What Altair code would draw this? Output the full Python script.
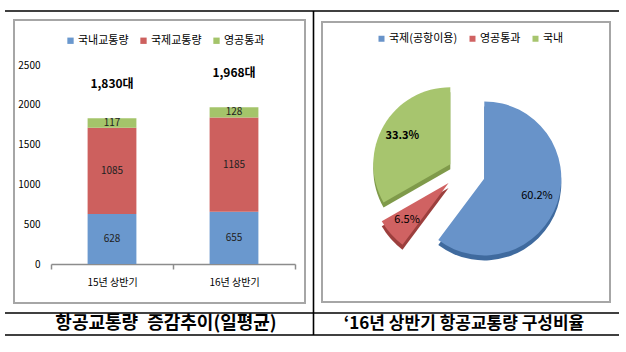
import altair as alt
import pandas as pd

# ---------------- data ----------------
periods = ["15년 상반기", "16년 상반기"]
series = ["국내교통량", "국제교통량", "영공통과"]
domestic = [628, 655]
international = [1085, 1185]
overflight = [117, 128]
y_ticks = [0, 500, 1000, 1500, 2000, 2500]

pie_names = ["국제(공항이용)", "영공통과", "국내"]
pie_values = [60.2, 6.5, 33.3]

captions = ["항공교통량\u2002증감추이(일평균)", "\u201816년 상반기 항공교통량 구성비율"]

# ---------------- style ----------------
FONT = "Noto Sans CJK KR"
W, H = 626, 352
BAR_COLORS = ["#6A98CE", "#CD605E", "#A4C46A"]
PIE_COLORS = ["#6893C9", "#D06262", "#A7C56E"]
PIE_DARK = ["#3F6A9E", "#9C3F3D", "#7F9A4A"]
PIE_EXPLODE = [23.5, 18, 13.5]
PIE_CX, PIE_CY, PIE_R = 462, 171, 77

# ---------------- tables ----------------
rows = []
for i, p in enumerate(periods):
    for j, vals in enumerate([domestic, international, overflight]):
        rows.append(dict(period=p, series=series[j], ord=j, value=vals[i]))
bar_df = pd.DataFrame(rows)

pie_df = pd.DataFrame(dict(name=pie_names, value=pie_values, ord=list(range(len(pie_names))),
                           explode=PIE_EXPLODE, dark=PIE_DARK))

one = pd.DataFrame({"a": [0]})

xs = alt.Scale(domain=periods, range=[51, 295], paddingInner=0, paddingOuter=0)
ys = alt.Scale(domain=[0, 2500], range=[264, 65], nice=False, zero=True)

# ---------------- frame ----------------
def box(x0, x1, y0, y1):
    return alt.Chart(one).mark_rect(color="white", fillOpacity=0, stroke="#A6A6A6", strokeWidth=2).encode(
        x=alt.value(x0), x2=alt.value(x1), y=alt.value(y0), y2=alt.value(y1))

def hline(x0, x1, y):
    return alt.Chart(one).mark_rule(color="black", strokeWidth=1.6).encode(
        x=alt.value(x0), x2=alt.value(x1), y=alt.value(y))

def vline(x, y0, y1):
    return alt.Chart(one).mark_rule(color="black", strokeWidth=1.6).encode(
        x=alt.value(x), y=alt.value(y0), y2=alt.value(y1))

frame = [box(14, 305, 20, 303), box(322, 610, 22, 302),
         hline(5, 619, 11), hline(5, 619, 313), hline(5, 619, 335), vline(313.5, 11, 335)]

cap_layers = []
for cx, txt, fs in zip([166, 464], captions, [18, 17]):
    cap_layers.append(alt.Chart(one).mark_text(font=FONT, fontSize=fs, fontWeight="bold", color="black",
                                               align="center", baseline="middle").encode(
        x=alt.value(cx), y=alt.value(324), text=alt.value(txt)))

# ---------------- bar chart ----------------
bars = alt.Chart(bar_df).mark_bar(width={"band": 0.4}).encode(
    x=alt.X("period:N", scale=xs, sort=periods,
            axis=alt.Axis(title=None, offset=-88, domainColor="#8C8C8C", domainWidth=1.5,
                          tickColor="#8C8C8C", tickWidth=1.5, tickSize=5, tickBand="extent",
                          labelFont=FONT, labelFontSize=10, labelColor="black", labelPadding=8,
                          labelAngle=0)),
    y=alt.Y("value:Q", stack="zero", scale=ys,
            axis=alt.Axis(title=None, offset=-44, domain=False, ticks=False, grid=False,
                          values=y_ticks, format="d", labelFont=FONT, labelFontSize=10,
                          labelColor="black", labelPadding=4)),
    color=alt.Color("series:N", scale=alt.Scale(domain=series, range=BAR_COLORS),
                    legend=alt.Legend(title=None, orient="none", legendX=65, legendY=35,
                                      direction="horizontal", symbolType="square", symbolSize=40,
                                      symbolStrokeWidth=0, labelFont=FONT, labelFontSize=11,
                                      labelColor="black", labelOffset=2, columnPadding=9, padding=0)),
    order=alt.Order("ord:Q", sort="ascending"),
)

bar_text = alt.Chart(bar_df).transform_window(
    cum="sum(value)", groupby=["period"], sort=[alt.SortField("ord")], frame=[None, 0]
).transform_calculate(mid="datum.cum - datum.value / 2").mark_text(
    font=FONT, fontSize=10, color="#222222", baseline="middle").encode(
    x=alt.X("period:N", scale=xs, sort=periods, axis=None),
    y=alt.Y("mid:Q", scale=ys, axis=None),
    text="value:Q",
)

total_text = alt.Chart(bar_df).transform_aggregate(
    total="sum(value)", groupby=["period"]
).transform_calculate(lab="format(datum.total, ',') + '대'").mark_text(
    font=FONT, fontSize=12, fontWeight="bold", color="black", baseline="middle", dy=-34).encode(
    x=alt.X("period:N", scale=xs, sort=periods, axis=None),
    y=alt.Y("total:Q", scale=ys, axis=None),
    text="lab:N",
)

# ---------------- pie chart ----------------
pie_base = alt.Chart(pie_df).transform_joinaggregate(total="sum(value)").transform_window(
    cum="sum(value)", sort=[alt.SortField("ord")], frame=[None, 0]
).transform_calculate(
    t0="(datum.cum - datum.value) / datum.total * 2 * PI"
).transform_calculate(
    t1="datum.cum / datum.total * 2 * PI"
).transform_calculate(
    mid="(datum.t0 + datum.t1) / 2"
).transform_calculate(
    cx=f"{PIE_CX} + datum.explode * sin(datum.mid)"
).transform_calculate(
    cy=f"{PIE_CY} - datum.explode * cos(datum.mid)"
).transform_calculate(
    sy="datum.cy + 5"
).transform_calculate(
    lx=f"datum.cx + {PIE_R * 0.72} * sin(datum.mid)"
).transform_calculate(
    ly=f"datum.cy - {PIE_R * 0.72} * cos(datum.mid)"
).transform_calculate(
    lab="format(datum.value, '.1f') + '%'"
)

pie_shadow = pie_base.mark_arc(radius=PIE_R).encode(
    theta=alt.Theta("t0:Q", scale=None, stack=False), theta2="t1:Q",
    x=alt.X("cx:Q", scale=None, axis=None), y=alt.Y("sy:Q", scale=None, axis=None),
    color=alt.Color("dark:N", scale=None),
)

pie = pie_base.mark_arc(radius=PIE_R).encode(
    theta=alt.Theta("t0:Q", scale=None, stack=False), theta2="t1:Q",
    x=alt.X("cx:Q", scale=None, axis=None), y=alt.Y("cy:Q", scale=None, axis=None),
    color=alt.Color("name:N", scale=alt.Scale(domain=pie_names, range=PIE_COLORS),
                    legend=alt.Legend(title=None, orient="none", legendX=376, legendY=33,
                                      direction="horizontal", symbolType="square", symbolSize=36,
                                      symbolStrokeWidth=0, labelFont=FONT, labelFontSize=11,
                                      labelColor="black", labelOffset=2, columnPadding=9, padding=0)),
    order=alt.Order("ord:Q"),
)

def pie_label(expr, weight):
    return pie_base.transform_filter(expr).mark_text(
        font=FONT, fontSize=11, fontWeight=weight, color="black", baseline="middle").encode(
        x=alt.X("lx:Q", scale=None, axis=None), y=alt.Y("ly:Q", scale=None, axis=None),
        text="lab:N",
    )

pie_text_a = pie_label("datum.ord != 2", "normal")
pie_text_b = pie_label("datum.ord == 2", "bold")

chart = alt.layer(
    *frame[:2], bars, bar_text, total_text, pie_shadow, pie, pie_text_a, pie_text_b,
    *frame[2:], *cap_layers
).resolve_scale(
    x="independent", y="independent", color="independent"
).properties(
    width=W, height=H, padding=0, autosize=alt.AutoSizeParams(type="none"), background="white"
).configure_view(strokeWidth=0)

chart.save("out.html", embed_options={"renderer": "svg", "actions": False})
